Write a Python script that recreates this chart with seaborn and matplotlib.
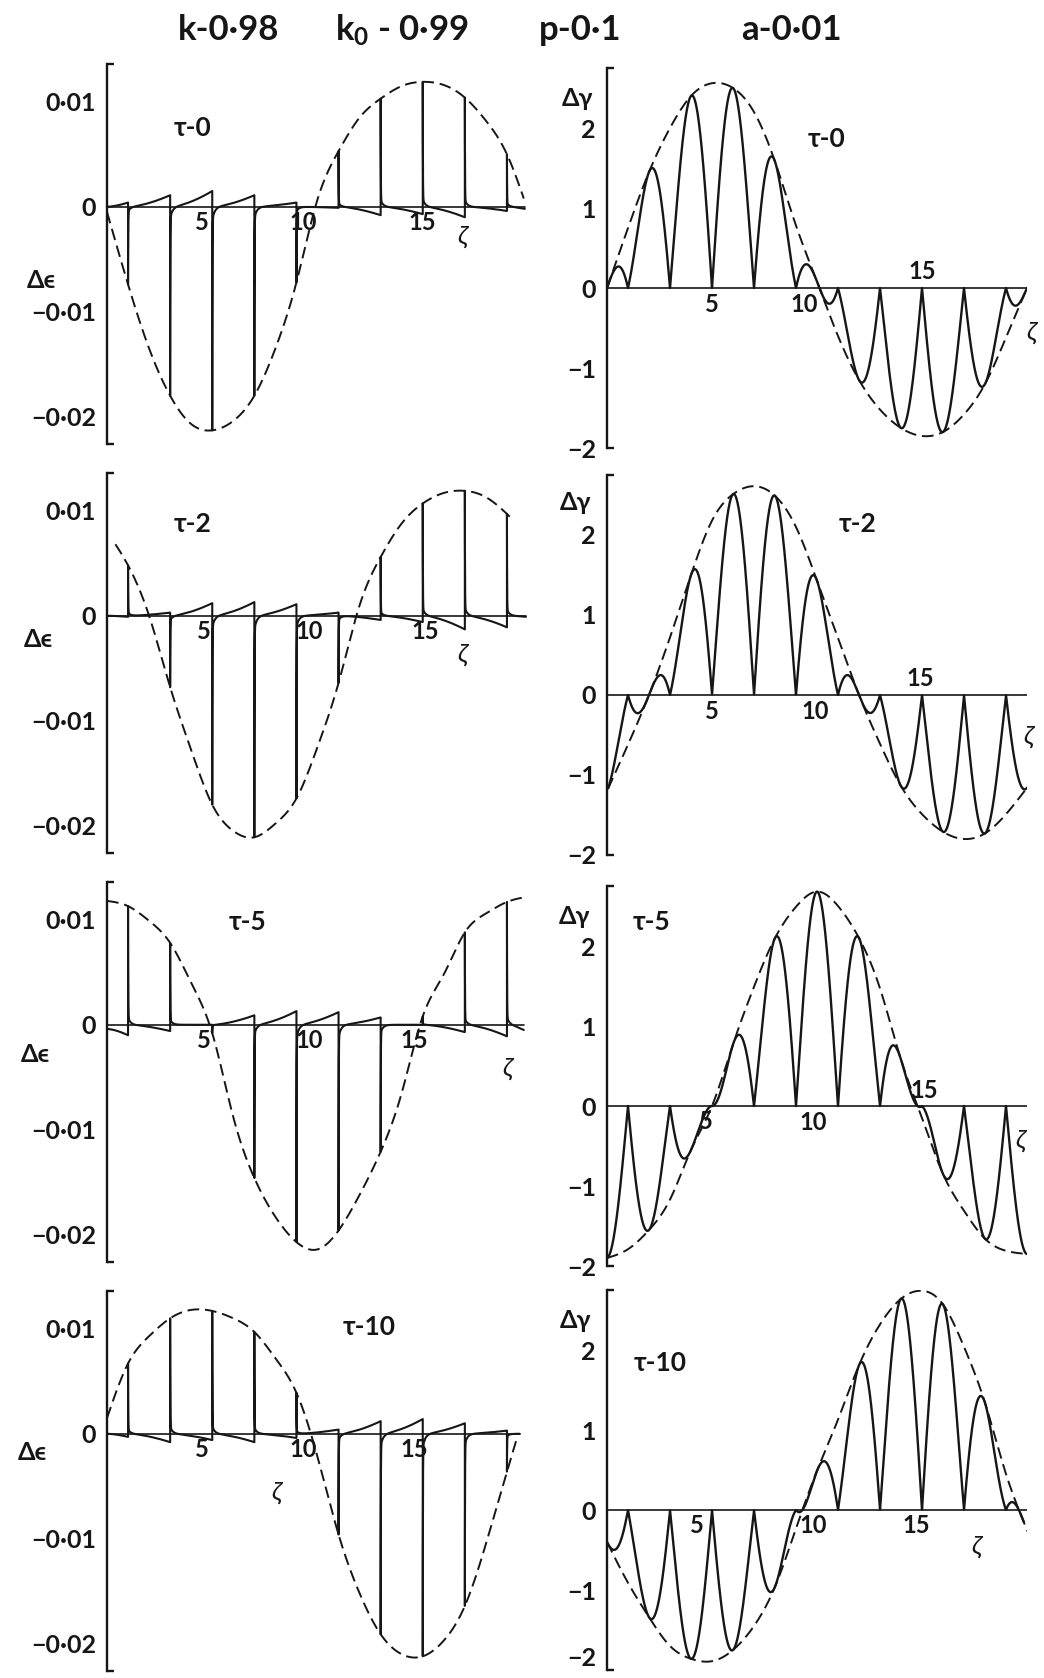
import numpy as np
import matplotlib
matplotlib.use("Agg")
import matplotlib.pyplot as plt
import matplotlib.transforms as mtransforms
import seaborn as sns

sns.set_theme(style="white")
FONT = ["Lato", "DejaVu Sans"]
plt.rcParams["font.family"] = FONT
plt.rcParams["axes.unicode_minus"] = True
plt.rcParams["mathtext.fontset"] = "custom"
plt.rcParams["mathtext.rm"] = "Lato:bold"
plt.rcParams["mathtext.default"] = "rm"

# ---------------------------------------------------------------------------
# Data: envelope values read at integer zeta = 0..20
# ---------------------------------------------------------------------------
zeta_knots = list(range(21))
tau_values = [0, 2, 5, 10]

# strain perturbation envelope (spike tips sit on it at odd zeta)
eps_env_t0 = [-0.0005, -0.0074, -0.0135, -0.0180, -0.0207, -0.0213, -0.0204, -0.0180, -0.0135, -0.0072,
              0.0007, 0.0053, 0.0085, 0.0103, 0.0115, 0.0119, 0.0116, 0.0104, 0.0082, 0.0050, -0.0004]
eps_env_t2 = [0.0080, 0.0048, 0.0000, -0.0068, -0.0128, -0.0180, -0.0205, -0.0211, -0.0198, -0.0174,
              -0.0125, -0.0064, 0.0010, 0.0056, 0.0088, 0.0107, 0.0117, 0.0119, 0.0113, 0.0097, 0.0077]
eps_env_t5 = [0.0118, 0.0113, 0.0099, 0.0078, 0.0040, -0.0008, -0.0088, -0.0146, -0.0183, -0.0207,
              -0.0214, -0.0196, -0.0162, -0.0121, -0.0065, 0.0008, 0.0048, 0.0088, 0.0106, 0.0117, 0.0122]
eps_env_t10 = [0.0015, 0.0067, 0.0093, 0.0110, 0.0118, 0.0117, 0.0110, 0.0097, 0.0072, 0.0039,
               -0.0022, -0.0096, -0.0152, -0.0191, -0.0210, -0.0212, -0.0197, -0.0164, -0.0105, -0.0036, 0.0030]

# baseline level reached just before each spike (zeta = 1, 3, ..., 19) and at the end
eps_ramp_t0 = [0.0004, 0.0011, 0.0015, 0.0011, 0.0004, -0.0001, -0.0008, -0.0007, -0.0010, -0.0004, -0.0002]
eps_ramp_t2 = [-0.0001, 0.0003, 0.0012, 0.0013, 0.0011, 0.0003, -0.0004, -0.0006, -0.0013, -0.0011, -0.0001]
eps_ramp_t5 = [-0.0010, -0.0006, 0.0000, 0.0009, 0.0013, 0.0012, 0.0007, 0.0000, -0.0007, -0.0011, -0.0005]
eps_ramp_t10 = [-0.0003, -0.0008, -0.0006, -0.0008, -0.0004, 0.0004, 0.0012, 0.0014, 0.0010, 0.0003, 0.0000]
eps_lead = [0.0, 0.0, -0.0004, 0.0]

# shear perturbation envelope
gam_env_t0 = [0.00, 0.75, 1.45, 2.00, 2.40, 2.56, 2.50, 2.20, 1.58, 0.78, 0.08,
              -0.60, -1.15, -1.52, -1.75, -1.85, -1.80, -1.58, -1.20, -0.62, 0.00]
gam_env_t2 = [-1.20, -0.62, 0.00, 0.72, 1.50, 2.18, 2.51, 2.61, 2.49, 2.10, 1.43,
              0.71, 0.00, -0.61, -1.14, -1.49, -1.71, -1.80, -1.73, -1.49, -1.16]
gam_env_t5 = [-1.90, -1.79, -1.55, -1.17, -0.55, 0.00, 0.77, 1.49, 2.10, 2.49, 2.68,
              2.50, 2.10, 1.47, 0.58, -0.15, -0.85, -1.31, -1.66, -1.81, -1.85]
gam_env_t10 = [-0.40, -0.91, -1.34, -1.70, -1.86, -1.89, -1.75, -1.45, -0.96, -0.23, 0.49,
               1.13, 1.81, 2.32, 2.64, 2.74, 2.57, 2.04, 1.34, 0.45, -0.25]

eps_envs = [eps_env_t0, eps_env_t2, eps_env_t5, eps_env_t10]
eps_ramps = [eps_ramp_t0, eps_ramp_t2, eps_ramp_t5, eps_ramp_t10]
gam_envs = [gam_env_t0, gam_env_t2, gam_env_t5, gam_env_t10]

# extent of each drawn curve along zeta
eps_solid_end = [19.85, 19.9, 19.8, 19.6]
eps_dash_range = [(0.0, 19.8), (0.4, 19.3), (0.0, 19.75), (0.0, 19.5)]
eps_axis_end = [19.85, 19.9, 19.8, 19.6]
gam_solid_range = [(0.0, 20.0), (0.05, 20.1), (0.0, 20.0), (0.0, 19.85)]
gam_dash_range = [(0.0, 20.0), (0.05, 20.1), (0.0, 20.0), (0.0, 20.1)]
gam_axis_end = 20.1

eps_ticks = [0.01, 0.0, -0.01, -0.02]
eps_tick_labels = ["0·01", "0", "−0·01", "−0·02"]
eps_minor = [0.005, -0.005, -0.015]
gam_ticks = [2, 1, 0, -1, -2]
gam_tick_labels = ["2", "1", "0", "−1", "−2"]
gam_minor = [2.5, 1.5, 0.5, -0.5, -1.5]
zeta_tick_names = ["5", "10", "15"]

header = ["k-0·98", "k$_0$ - 0·99", "p-0·1", "a-0·01"]

# ---------------------------------------------------------------------------
W, H = 1044, 1678
fig = plt.figure(figsize=(W / 100, H / 100), dpi=100)
INK = "#161616"
WEIGHT = "bold"


def smooth_through(xk, yk, x):
    """Natural cubic spline through the knots (xk, yk), evaluated at x."""
    xk = np.asarray(xk, float)
    yk = np.asarray(yk, float)
    n = len(xk)
    h = np.diff(xk)
    A = np.zeros((n, n))
    r = np.zeros(n)
    A[0, 0] = A[-1, -1] = 1.0
    for i in range(1, n - 1):
        A[i, i - 1] = h[i - 1]
        A[i, i] = 2 * (h[i - 1] + h[i])
        A[i, i + 1] = h[i]
        r[i] = 3 * ((yk[i + 1] - yk[i]) / h[i] - (yk[i] - yk[i - 1]) / h[i - 1])
    c = np.linalg.solve(A, r)
    b = (yk[1:] - yk[:-1]) / h - h * (2 * c[:-1] + c[1:]) / 3
    d = (c[1:] - c[:-1]) / (3 * h)
    idx = np.clip(np.searchsorted(xk, x, side="right") - 1, 0, n - 2)
    dx = x - xk[idx]
    return yk[idx] + b[idx] * dx + c[idx] * dx ** 2 + d[idx] * dx ** 3


def strain_trace(env, ramp, lead, z_end):
    """Spikes at odd zeta with tip on the envelope, slow ramps in between."""
    spikes = [1, 3, 5, 7, 9, 11, 13, 15, 17, 19]
    tips = [env[s] for s in spikes]
    zs, vs = [], []
    for i in range(11):
        a = 0.0 if i == 0 else spikes[i - 1]
        b = spikes[i] if i < 10 else z_end
        span = b - a
        dz = np.concatenate([[0.0], np.geomspace(1e-3, span, 260)])
        t = dz / span
        b0 = lead if i == 0 else 0.0
        base = b0 + (ramp[i] - b0) * t ** 1.6
        if i > 0:
            tip = tips[i - 1]
            base = base + tip * (0.94 * np.exp(-dz / 0.008) + 0.06 * np.exp(-dz / 0.12))
        zs.append(a + dz)
        vs.append(base)
    return np.concatenate(zs), np.concatenate(vs)


def shear_trace(env, z):
    return smooth_through(zeta_knots, env, z) * np.abs(np.sin(np.pi * (z - 1) / 2))


def fig_text(x, y, s, **kw):
    fig.text(x / W, 1 - y / H, s, **kw)


def style_axis(ax, lo, hi, ticks, labels, minor, label_size):
    ax.set_xlim(0, 20)
    ax.set_ylim(lo, hi)
    for side in ["top", "right", "bottom"]:
        ax.spines[side].set_visible(False)
    ax.spines["left"].set_linewidth(1.7)
    ax.spines["left"].set_color(INK)
    ax.set_xticks([])
    ax.set_yticks(ticks)
    ax.set_yticklabels(labels)
    ax.set_yticks(minor, minor=True)
    ax.tick_params(axis="y", which="major", direction="out", length=6, width=1.5,
                   labelsize=label_size, pad=2, colors=INK)
    ax.tick_params(axis="y", which="minor", direction="out", length=6, width=1.4, colors=INK)
    for lab in ax.get_yticklabels():
        lab.set_fontweight(WEIGHT)
    ax.set_xlabel("")
    ax.set_ylabel("")
    ax.patch.set_alpha(0)
    # short serifs closing the ends of the vertical axis
    tr = mtransforms.blended_transform_factory(ax.transAxes, ax.transData)
    for yv in (lo, hi):
        ax.plot([0, 0.016], [yv, yv], color=INK, lw=1.7, transform=tr, clip_on=False,
                solid_capstyle="butt")


def zeta_labels(ax, xs, dys, size):
    for name, zx, dy in zip(zeta_tick_names, xs, dys):
        ax.annotate(name, xy=(zx, 0), xytext=(0, dy), textcoords="offset points",
                    ha="center", va="center", fontsize=size, fontweight=WEIGHT, color=INK)


# layout in pixels
left_x0, left_w = 107, 421
right_x0, right_w = 607, 420
left_tops = [64, 473, 882, 1291]
right_tops = [68, 475, 886, 1290]
panel_h = 380
eps_lim = (-0.0226, 0.0136)
gam_lim = (-2.0, 2.75)

left_zlab_x = [[4.5, 9.3, 15.0], [4.6, 9.6, 15.1], [4.6, 9.6, 14.6], [4.5, 9.3, 14.6]]
left_zlab_dy = [-11, -11, -11]
right_zlab_x = [[5.0, 9.4, 15.0], [5.0, 9.9, 14.9], [4.7, 9.8, 15.1], [4.3, 9.8, 14.75]]
right_zlab_dy = [[-12, -12, 12], [-12, -12, 12], [-11, -12, 11], [-11, -11, -11]]
left_zeta_sym = [(462, 236), (462, 655), (507, 1068), (276, 1492)]
right_zeta_sym = [(1031, 332), (1028, 737), (1020, 1141), (976, 1546)]
left_tau_pos = [(193, 128), (193, 524), (248, 922), (369, 1327)]
right_tau_pos = [(827, 139), (858, 524), (652, 922), (660, 1363)]
left_ylab_pos = [(41, 280), (38, 640), (35, 1054), (32, 1453)]
right_ylab_pos = [(577, 99), (575, 502), (574, 917), (575, 1320)]

dash_pattern = (0, (6.0, 3.0))

for row in range(4):
    tau = tau_values[row]

    # ---------------- strain column ----------------
    axl = fig.add_axes([left_x0 / W, 1 - (left_tops[row] + panel_h) / H, left_w / W, panel_h / H])
    style_axis(axl, *eps_lim, eps_ticks, eps_tick_labels, eps_minor, 18)
    axl.axhline(0, xmin=0, xmax=eps_axis_end[row] / 20, color=INK, lw=1.2)

    zs, vs = strain_trace(eps_envs[row], eps_ramps[row], eps_lead[row], eps_solid_end[row])
    sns.lineplot(x=zs, y=vs, ax=axl, sort=False, estimator=None, color=INK, lw=1.5)

    zd = np.linspace(*eps_dash_range[row], 600)
    sns.lineplot(x=zd, y=smooth_through(zeta_knots, eps_envs[row], zd), ax=axl,
                 sort=False, estimator=None, color=INK, lw=1.4)
    axl.lines[-1].set_linestyle(dash_pattern)
    zeta_labels(axl, left_zlab_x[row], left_zlab_dy, 17)

    # ---------------- shear column ----------------
    axr = fig.add_axes([right_x0 / W, 1 - (right_tops[row] + panel_h) / H, right_w / W, panel_h / H])
    style_axis(axr, *gam_lim, gam_ticks, gam_tick_labels, gam_minor, 18)
    if row == 3:
        # keep the lowest label inside the page
        axr.get_yticklabels()[-1].set_va("bottom")
    axr.axhline(0, xmin=0, xmax=gam_axis_end / 20, color=INK, lw=1.2)
    y0 = (0 - gam_lim[0]) / (gam_lim[1] - gam_lim[0])
    axr.axvline(gam_axis_end, ymin=y0 - 0.012, ymax=y0 + 0.012, color=INK, lw=1.2)

    zg = np.linspace(*gam_solid_range[row], 4001)
    sns.lineplot(x=zg, y=shear_trace(gam_envs[row], zg), ax=axr, sort=False,
                 estimator=None, color=INK, lw=1.7)
    zd = np.linspace(*gam_dash_range[row], 600)
    sns.lineplot(x=zd, y=smooth_through(zeta_knots, gam_envs[row], zd), ax=axr,
                 sort=False, estimator=None, color=INK, lw=1.4)
    axr.lines[-1].set_linestyle(dash_pattern)
    zeta_labels(axr, right_zlab_x[row], right_zlab_dy[row], 17)

    # ---------------- annotations ----------------
    fig_text(*left_tau_pos[row], f"τ-{tau}", fontsize=19, fontweight=WEIGHT,
             ha="center", va="center", color=INK)
    fig_text(*right_tau_pos[row], f"τ-{tau}", fontsize=19, fontweight=WEIGHT,
             ha="center", va="center", color=INK)
    fig_text(*left_ylab_pos[row], "Δϵ", fontsize=18, fontweight=WEIGHT,
             ha="center", va="center", color=INK)
    fig_text(*right_ylab_pos[row], "Δγ", fontsize=18, fontweight=WEIGHT,
             ha="center", va="center", color=INK)
    fig_text(*left_zeta_sym[row], "ζ", fontsize=19, style="italic",
             ha="center", va="center", color=INK)
    fig_text(*right_zeta_sym[row], "ζ", fontsize=19, style="italic",
             ha="center", va="center", color=INK)

header_x = [229, 402, 580, 791]
for hx, txt in zip(header_x, header):
    fig_text(hx, 30, txt, fontsize=25, fontweight=WEIGHT, ha="center", va="center", color=INK)

fig.savefig("out.png", dpi=100, facecolor="white")
